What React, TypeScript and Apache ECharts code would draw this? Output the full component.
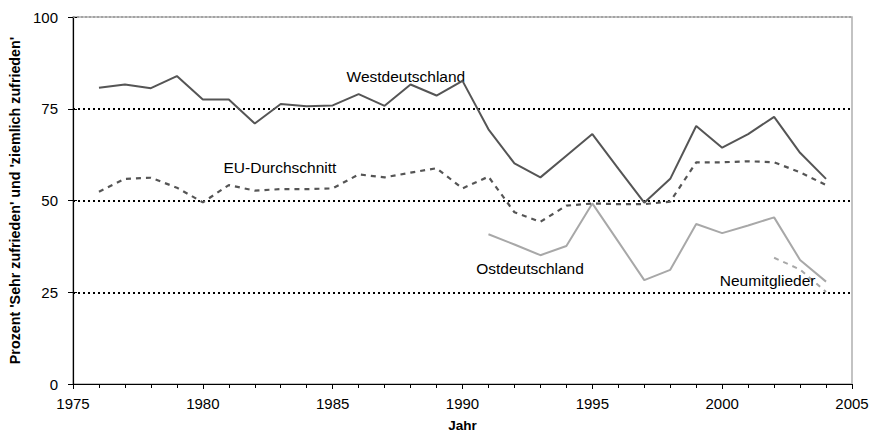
import React, { useEffect, useRef } from "react";
import * as echarts from "echarts";

const years = [1976,1977,1978,1979,1980,1981,1982,1983,1984,1985,1986,1987,1988,1989,1990,1991,1992,1993,1994,1995,1996,1997,1998,1999,2000,2001,2002,2003,2004];
const west = [80.7,81.6,80.6,83.9,77.5,77.5,71.0,76.3,75.7,75.9,79.0,75.8,81.6,78.6,82.6,69.4,60.1,56.3,62.2,68.1,58.7,49.4,55.9,70.3,64.4,68.1,72.8,63.0,55.9];
const eu = [52.4,55.9,56.2,53.5,49.5,54.2,52.7,53.1,53.1,53.3,57.1,56.3,57.6,58.8,53.3,56.5,46.8,44.2,48.6,49.2,49.0,49.0,49.7,60.4,60.4,60.7,60.4,57.7,54.2];
const ostYears = [1991,1992,1993,1994,1995,1996,1997,1998,1999,2000,2001,2002,2003,2004];
const ost = [40.8,38.0,35.1,37.6,49.2,38.8,28.3,31.1,43.6,41.1,43.2,45.4,33.8,27.9];
const neuYears = [2002,2003,2004];
const neu = [34.4,31.2,25.1];
const yTicks = [0,25,50,75,100];
const seriesLabels = [
  { name: "Westdeutschland", x: 1987.82, y: 83.9 },
  { name: "EU-Durchschnitt", x: 1982.97, y: 58.9 },
  { name: "Ostdeutschland", x: 1992.6, y: 31.6 },
  { name: "Neumitglieder", x: 2001.75, y: 28.3 },
];

const FONT = "'Liberation Sans', Arial, sans-serif";

function pairs(xs: number[], ys: number[]) {
  return xs.map((x, i) => [x, ys[i]]);
}

export default function App() {
  const ref = useRef<HTMLDivElement>(null);
  useEffect(() => {
    if (!ref.current) return;
    const chart = echarts.init(ref.current, null, { renderer: "svg" });
    const dark = "#555555";
    const light = "#a8a8a8";
    const mkLabel = (i: number) => ({
      symbol: "circle",
      symbolSize: 0,
      silent: true,
      data: [
        {
          coord: [seriesLabels[i].x, seriesLabels[i].y],
          label: {
            show: true,
            position: "inside",
            formatter: seriesLabels[i].name,
            color: "#000",
            fontSize: 15.5,
            fontFamily: FONT,
          },
        },
      ],
    });
    chart.setOption({
      animation: false,
      textStyle: { fontFamily: FONT },
      grid: {
        left: 73,
        right: 31,
        top: 17,
        bottom: 50,
        containLabel: false,
        outerBoundsMode: "none",
        show: true,
        borderColor: "#b0b0b0",
        borderWidth: 1.5,
      },
      xAxis: {
        type: "value",
        min: 1975,
        max: 2005,
        interval: 5,
        name: "Jahr",
        nameLocation: "middle",
        nameGap: 34,
        nameTextStyle: { fontWeight: "bold", fontSize: 13.5, color: "#000", fontFamily: FONT },
        axisLine: { onZero: false, lineStyle: { color: "#000", width: 1.2 } },
        axisTick: { show: true, length: 5, lineStyle: { color: "#000" } },
        minorTick: { show: true, splitNumber: 5, length: 4, lineStyle: { color: "#000" } },
        axisLabel: {
          color: "#000",
          fontSize: 15,
          margin: 12,
          fontFamily: FONT,
          formatter: (v: number) => String(v),
        },
        splitLine: { show: false },
      },
      yAxis: [
        {
          type: "value",
          min: 0,
          max: 100,
          interval: 25,
          name: "Prozent 'Sehr zufrieden' und 'ziemlich zufrieden'",
          nameLocation: "middle",
          nameGap: 49,
          nameTextStyle: { fontWeight: "bold", fontSize: 14.3, color: "#000", fontFamily: FONT },
          axisLine: { show: true, lineStyle: { color: "#000", width: 1.2 } },
          axisTick: { show: true, length: 5, lineStyle: { color: "#000" } },
          axisLabel: {
            color: "#000",
            fontSize: 15,
            margin: 15,
            fontFamily: FONT,
            formatter: (v: number) => (yTicks.includes(v) ? String(v) : ""),
          },
          splitLine: {
            show: true,
            showMinLine: false,
            showMaxLine: false,
            lineStyle: { color: "#000", width: 2, type: [2, 3] },
          },
        },
        {
          type: "value",
          min: 0,
          max: 100,
          interval: 25,
          position: "left",
          axisLine: { show: false },
          axisTick: { show: true, inside: true, length: 4, lineStyle: { color: "#000" } },
          axisLabel: { show: false },
          splitLine: { show: false },
        },
      ],
      series: [
        {
          type: "line",
          data: pairs(years, west),
          symbol: "none",
          lineStyle: { color: dark, width: 2 },
          z: 5,
          markPoint: mkLabel(0),
          markLine: {
            silent: true,
            symbol: "none",
            label: { show: false },
            lineStyle: { color: "#999", width: 1.5, type: [2, 2] },
            data: [{ yAxis: 100 }],
          },
        },
        {
          type: "line",
          data: pairs(years, eu),
          symbol: "none",
          lineStyle: { color: dark, width: 2.2, type: [5, 5] },
          z: 4,
          markPoint: mkLabel(1),
        },
        {
          type: "line",
          data: pairs(ostYears, ost),
          symbol: "none",
          lineStyle: { color: light, width: 2 },
          z: 3,
          markPoint: mkLabel(2),
        },
        {
          type: "line",
          data: pairs(neuYears, neu),
          symbol: "none",
          lineStyle: { color: light, width: 2, type: [5, 5] },
          z: 3,
          markPoint: mkLabel(3),
        },
      ],
    });
    return () => chart.dispose();
  }, []);
  return <div ref={ref} style={{ width: 883, height: 434, position: "absolute", left: 0, top: 0 }} />;
}
